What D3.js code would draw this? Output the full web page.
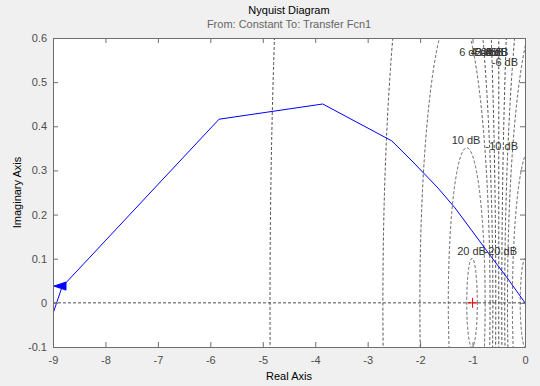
<!DOCTYPE html>
<html>
<head>
<meta charset="utf-8">
<script src="https://cdn.jsdelivr.net/npm/d3@7"></script>
<style>
  body { margin: 0; background: #f0f0f0; }
  svg { display: block; font-family: "Liberation Sans", Arial, sans-serif; }
</style>
</head>
<body>
<svg id="chart" width="540" height="386"></svg>
<script>
// axis ticks
let xTicks = [-9, -8, -7, -6, -5, -4, -3, -2, -1, 0];
let yTicks = [-0.1, 0, 0.1, 0.2, 0.3, 0.4, 0.5, 0.6];

// M-circle grid (dB)
let gridDb = [-20, -10, -6, -4, -2, 0, 2, 4, 6, 10, 20];

// grid labels, placed where they sit in the picture (data coords)
let labelText = ["6 dB", "4 dB", "2 dB", "0 dB", "-2 dB", "-4 dB", "-6 dB", "10 dB", "-10 dB", "20 dB", "-20 dB"];
let labelRe   = [-1.039, -0.819, -0.724, -0.629, -0.323, -0.323, -0.133, -1.124, -0.133, -1.019, -0.152];
let labelIm   = [0.559, 0.559, 0.559, 0.559, 0.559, 0.559, 0.537, 0.360, 0.346, 0.108, 0.108];
let labelEnd  = [false, false, false, false, true, true, true, false, true, false, true];

// nyquist curve
let curveRe = [-9.06, -8.828, -5.834, -3.857, -2.541, -2.135, -1.658, -1.334, -1.01, -0.667, -0.323, 0];
let curveIm = [-0.045, 0.036, 0.416, 0.4505, 0.367, 0.319, 0.260, 0.215, 0.163, 0.108, 0.054, 0];

// arrow on the curve
let arrowRe = -8.981, arrowIm = 0.038;

let margin = {top: 38, right: 15, bottom: 39, left: 53};
let width = 540 - margin.left - margin.right,
    height = 386 - margin.top - margin.bottom;

let svg = d3.select("#chart");

let x = d3.scaleLinear().domain([-9, 0]).range([0, width]);
let y = d3.scaleLinear().domain([-0.1, 0.6]).range([height, 0]);

let g = svg.append("g")
    .attr("transform", "translate(" + margin.left + "," + margin.top + ")");

g.append("rect")
    .attr("width", width)
    .attr("height", height)
    .attr("fill", "#fff");

svg.append("defs").append("clipPath")
    .attr("id", "clip")
    .append("rect")
    .attr("width", width)
    .attr("height", height);

let plot = g.append("g").attr("clip-path", "url(#clip)");

// M-circles
let line = d3.line()
    .x(d => x(d[0]))
    .y(d => y(d[1]));

gridDb.forEach(function(db) {
    let pts;
    if (db == 0) {
        pts = [[-0.5, -1], [-0.5, 1]];
    } else {
        let m = Math.pow(10, db / 20);
        let c = -m * m / (m * m - 1);
        let r = Math.abs(m / (m * m - 1));
        pts = d3.range(0, 2001).map(function(i) {
            let t = i / 2000 * 2 * Math.PI;
            return [c + r * Math.cos(t), r * Math.sin(t)];
        });
    }
    plot.append("path")
        .attr("d", line(pts))
        .attr("fill", "none")
        .attr("stroke", "#4d4d4d")
        .attr("stroke-width", 1)
        .attr("stroke-dasharray", "3,2");
});

// real axis
plot.append("line")
    .attr("x1", x(-9)).attr("x2", x(0))
    .attr("y1", y(0)).attr("y2", y(0))
    .attr("stroke", "#4d4d4d")
    .attr("stroke-dasharray", "3,2");

// grid labels
labelText.forEach(function(t, i) {
    g.append("text")
        .attr("x", x(labelRe[i]))
        .attr("y", y(labelIm[i]))
        .attr("text-anchor", labelEnd[i] ? "end" : "middle")
        .attr("font-size", "11px")
        .attr("fill", "#333")
        .text(t);
});

// curve
let pts = curveRe.map((d, i) => [d, curveIm[i]]);
plot.append("path")
    .attr("d", line(pts))
    .attr("fill", "none")
    .attr("stroke", "#0000ff")
    .attr("stroke-width", 1);

let ax = x(arrowRe), ay = y(arrowIm);
plot.append("path")
    .attr("d", "M" + ax + "," + ay + "L" + (ax + 12) + "," + (ay - 4) + "L" + (ax + 12) + "," + (ay + 4) + "Z")
    .attr("fill", "#0000ff")
    .attr("stroke", "#0000ff");

// critical point
plot.append("path")
    .attr("d", "M" + (x(-1) - 5) + "," + y(0) + "h10M" + x(-1) + "," + (y(0) - 5) + "v10")
    .attr("stroke", "#ff0000")
    .attr("stroke-width", 1);

// axes with ticks on all sides
let tickLen = 5;
let plainFmt = d => String(d);   // keep ascii hyphen like the original
function styleAxis(sel) {
    sel.selectAll("path").attr("stroke", "#6e6e6e");
    sel.selectAll("line").attr("stroke", "#6e6e6e");
    sel.selectAll("text").attr("fill", "#4d4d4d").attr("font-size", "11px")
        .attr("font-family", "Liberation Sans, Arial, sans-serif");
}

g.append("g")
    .attr("transform", "translate(0," + height + ")")
    .call(d3.axisBottom(x).tickValues(xTicks).tickSizeInner(-tickLen).tickSizeOuter(0).tickPadding(9).tickFormat(plainFmt))
    .call(styleAxis);

g.append("g")
    .call(d3.axisTop(x).tickValues(xTicks).tickSizeInner(-tickLen).tickSizeOuter(0).tickFormat(""))
    .call(styleAxis);

g.append("g")
    .call(d3.axisLeft(y).tickValues(yTicks).tickSizeInner(-tickLen).tickSizeOuter(0).tickPadding(6).tickFormat(plainFmt))
    .call(styleAxis);

g.append("g")
    .attr("transform", "translate(" + width + ",0)")
    .call(d3.axisRight(y).tickValues(yTicks).tickSizeInner(-tickLen).tickSizeOuter(0).tickFormat(""))
    .call(styleAxis);

g.selectAll(".domain").attr("stroke", "#6e6e6e");

// titles
svg.append("text")
    .attr("x", margin.left + width / 2)
    .attr("y", 14)
    .attr("text-anchor", "middle")
    .attr("font-size", "11px")
    .attr("fill", "#000")
    .text("Nyquist Diagram");

svg.append("text")
    .attr("x", margin.left + width / 2)
    .attr("y", 28)
    .attr("text-anchor", "middle")
    .attr("font-size", "11px")
    .attr("fill", "#666")
    .text("From: Constant  To: Transfer Fcn1");

svg.append("text")
    .attr("x", margin.left + width / 2)
    .attr("y", 380)
    .attr("text-anchor", "middle")
    .attr("font-size", "11px")
    .attr("fill", "#000")
    .text("Real Axis");

svg.append("text")
    .attr("transform", "translate(21," + (margin.top + height / 2) + ") rotate(-90)")
    .attr("text-anchor", "middle")
    .attr("font-size", "11px")
    .attr("fill", "#000")
    .text("Imaginary Axis");
</script>
</body>
</html>
